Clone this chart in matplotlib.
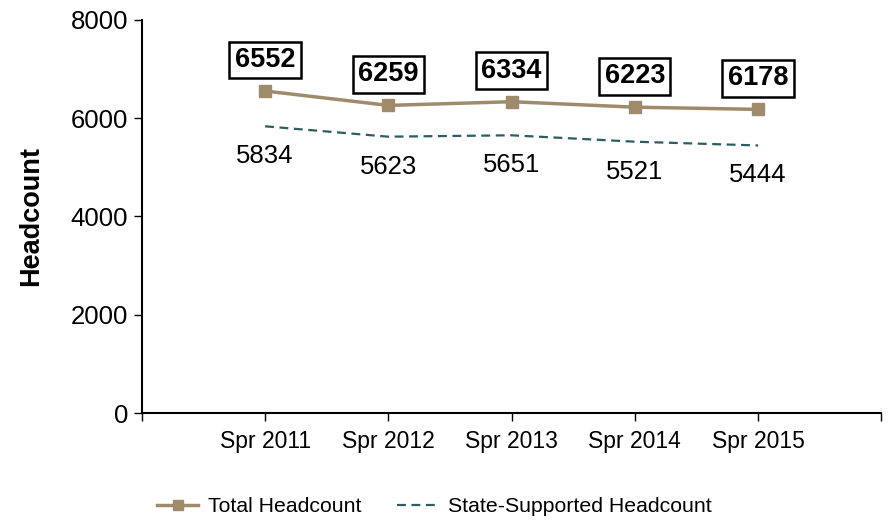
import matplotlib
matplotlib.use("Agg")
import matplotlib.pyplot as plt

categories = ["Spr 2011", "Spr 2012", "Spr 2013", "Spr 2014", "Spr 2015"]
total = [6552, 6259, 6334, 6223, 6178]
state = [5834, 5623, 5651, 5521, 5444]

plt.rcParams['font.family'] = ['Liberation Sans', 'DejaVu Sans']

fig = plt.figure(figsize=(8.92, 5.21), dpi=100)
ax = fig.add_axes([0.159, 0.207, 0.829, 0.755])

x = list(range(1, len(categories) + 1))
tan = "#A08A6C"
teal = "#2E5C63"
ax.plot(x, total, color=tan, lw=2.5, marker="s", ms=9, label="Total Headcount")
ax.plot(x, state, color=teal, lw=1.6, ls=(0, (4, 2.5)), label="State-Supported Headcount")

for xi, v in zip(x, total):
    ax.annotate(str(v), (xi, v), xytext=(0, 31), textcoords="offset pixels",
                ha="center", va="center", fontsize=19.5, fontweight="bold",
                bbox=dict(boxstyle="square,pad=0.2", fc="white", ec="black", lw=1.8))
for xi, v in zip(x, state):
    ax.annotate(str(v), (xi, v), xytext=(0, -30), textcoords="offset pixels",
                ha="center", va="center", fontsize=18.5)

ax.set_xlim(0, 6)
ax.set_ylim(0, 8000)
ax.set_yticks([0, 2000, 4000, 6000, 8000])
ax.set_xticks(x)
ax.set_xticklabels(categories)
ax.set_xticks([0, 6], minor=True)
ax.tick_params(axis="y", labelsize=18.5, direction="out", length=6, width=1, pad=4)
ax.tick_params(axis="x", labelsize=16.5, direction="out", length=6, width=1, pad=6)
ax.tick_params(axis="x", which="minor", direction="out", length=6, width=1)
for s in ["top", "right"]:
    ax.spines[s].set_visible(False)
ax.spines["left"].set_linewidth(1.5)
ax.spines["bottom"].set_linewidth(1.5)
ax.set_ylabel("Headcount", fontsize=19.5, fontweight="bold", labelpad=19)

fig.legend(loc="lower left", bbox_to_anchor=(0.155, -0.027), ncol=2, frameon=False,
           fontsize=15.3, handlelength=1.9, handletextpad=0.5, columnspacing=1.65,
           markerscale=0.85)

fig.savefig("out.png", dpi=100)
